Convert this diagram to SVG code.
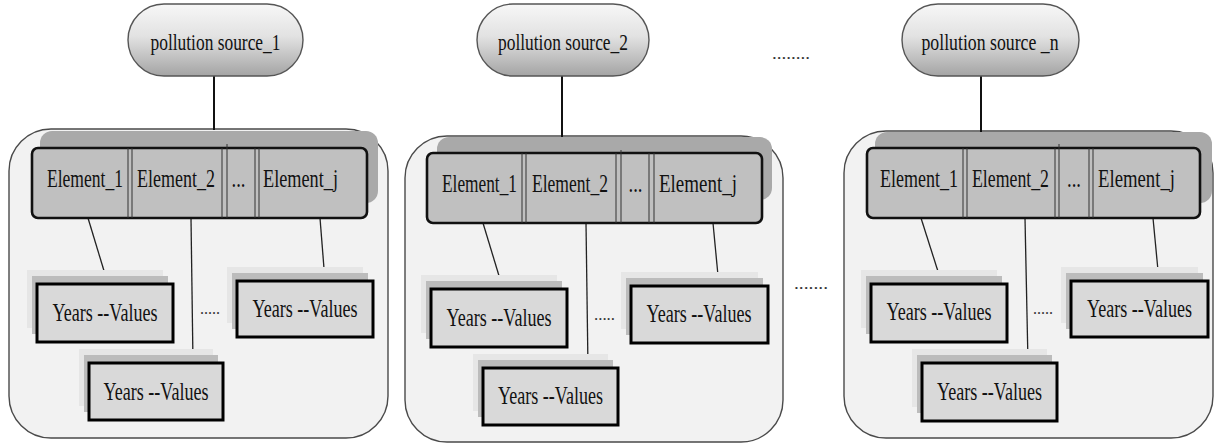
<svg xmlns="http://www.w3.org/2000/svg" width="1215" height="444" viewBox="0 0 1215 444" font-family="Liberation Serif, Times New Roman, serif">
<defs>
<linearGradient id="pillGrad" x1="0" y1="0" x2="0" y2="1">
<stop offset="0" stop-color="#f7f7f7"/>
<stop offset="0.45" stop-color="#e2e2e2"/>
<stop offset="1" stop-color="#a4a4a4"/>
</linearGradient>
<style>
text{fill:#111;text-anchor:middle}
.pill{fill:url(#pillGrad);stroke:#555;stroke-width:1.4}
.pt{font-size:24px}
.outer{fill:#f2f2f2;stroke:#4a4a4a;stroke-width:1.4}
.bshadow{fill:#a9a9a9}
.bar{fill:#c0c0c0;stroke:#111;stroke-width:2.6}
.div{stroke:#333;stroke-width:1}
.et{font-size:25px}
.halo{fill:#e6e6e6}
.ysh{fill:#bcbcbc}
.yb{fill:#d9d9d9;stroke:#000;stroke-width:3}
.yt{font-size:25px}
.dots{font-size:16px;fill:#333}
.conn line{stroke:#222;stroke-width:1.3}
.conn line.thick{stroke:#111;stroke-width:2}
</style>
</defs>
<rect x="0" y="0" width="1215" height="444" fill="#ffffff"/>

<g id="container1">
<rect class="outer" x="9" y="129" width="379" height="309" rx="42"/>
<rect class="bshadow" x="40" y="131" width="338" height="72" rx="12"/>
</g>
<g id="container2">
<rect class="outer" x="405" y="136" width="378" height="306" rx="42"/>
<rect class="bshadow" x="437" y="137" width="335" height="63" rx="12"/>
</g>
<g id="container3">
<rect class="outer" x="844" y="131" width="369" height="307" rx="42"/>
<rect class="bshadow" x="875" y="132" width="337" height="71" rx="12"/>
</g>

<g id="connectors" class="conn">
<line class="thick" x1="214" y1="76" x2="214" y2="130"/>
<line class="thick" x1="562" y1="76" x2="562" y2="137"/>
<line class="thick" x1="981" y1="76" x2="981" y2="132"/>
<line x1="88" y1="218" x2="108" y2="284"/>
<line x1="191" y1="218" x2="193" y2="363"/>
<line x1="320" y1="218" x2="325" y2="281"/>
<line x1="483" y1="223" x2="503" y2="289"/>
<line x1="586" y1="223" x2="588" y2="368"/>
<line x1="713" y1="223" x2="719" y2="286"/>
<line x1="921" y1="218" x2="942" y2="284"/>
<line x1="1025" y1="218" x2="1028" y2="363"/>
<line x1="1153" y1="218" x2="1159" y2="281"/>
</g>

<g id="source1">
<rect class="pill" x="128" y="4" width="175" height="72" rx="36"/>
<text class="pt" x="215.5" y="50" textLength="130" lengthAdjust="spacingAndGlyphs">pollution source_1</text>
</g>
<g id="source2">
<rect class="pill" x="477" y="4" width="172" height="72" rx="36"/>
<text class="pt" x="563" y="50" textLength="130" lengthAdjust="spacingAndGlyphs">pollution source_2</text>
</g>
<g id="sourceN">
<rect class="pill" x="902" y="4" width="177" height="72" rx="36"/>
<text class="pt" x="990" y="50" textLength="137" lengthAdjust="spacingAndGlyphs">pollution source _n</text>
</g>

<g id="elements1">
<rect class="bar" x="32" y="148" width="335" height="70" rx="6"/>
<line class="div" x1="128" y1="148" x2="128" y2="218"/><line class="div" x1="132" y1="148" x2="132" y2="218"/>
<line class="div" x1="222" y1="148" x2="222" y2="218"/><line class="div" x1="227" y1="144" x2="227" y2="218"/>
<line class="div" x1="255" y1="148" x2="255" y2="218"/><line class="div" x1="259" y1="148" x2="259" y2="218"/>
<text class="et" x="85" y="187" textLength="76" lengthAdjust="spacingAndGlyphs">Element_1</text>
<text class="et" x="176" y="187" textLength="78" lengthAdjust="spacingAndGlyphs">Element_2</text>
<text class="et" x="238.5" y="187" textLength="14" lengthAdjust="spacingAndGlyphs">...</text>
<text class="et" x="300.5" y="187" textLength="75" lengthAdjust="spacingAndGlyphs">Element_j</text>
</g>
<g id="elements2">
<rect class="bar" x="427" y="153" width="335" height="70" rx="6"/>
<line class="div" x1="522" y1="153" x2="522" y2="223"/><line class="div" x1="526" y1="153" x2="526" y2="223"/>
<line class="div" x1="616" y1="153" x2="616" y2="223"/><line class="div" x1="621" y1="150" x2="621" y2="223"/>
<line class="div" x1="649" y1="153" x2="649" y2="223"/><line class="div" x1="654" y1="153" x2="654" y2="223"/>
<text class="et" x="479.5" y="192" textLength="75" lengthAdjust="spacingAndGlyphs">Element_1</text>
<text class="et" x="570" y="192" textLength="76" lengthAdjust="spacingAndGlyphs">Element_2</text>
<text class="et" x="635.5" y="192" textLength="14" lengthAdjust="spacingAndGlyphs">...</text>
<text class="et" x="698" y="192" textLength="78" lengthAdjust="spacingAndGlyphs">Element_j</text>
</g>
<g id="elements3">
<rect class="bar" x="867" y="148" width="333" height="70" rx="6"/>
<line class="div" x1="963" y1="148" x2="963" y2="218"/><line class="div" x1="967" y1="148" x2="967" y2="218"/>
<line class="div" x1="1055" y1="148" x2="1055" y2="218"/><line class="div" x1="1059" y1="144" x2="1059" y2="218"/>
<line class="div" x1="1089" y1="148" x2="1089" y2="218"/><line class="div" x1="1093" y1="148" x2="1093" y2="218"/>
<text class="et" x="919" y="187" textLength="78" lengthAdjust="spacingAndGlyphs">Element_1</text>
<text class="et" x="1010.5" y="187" textLength="77" lengthAdjust="spacingAndGlyphs">Element_2</text>
<text class="et" x="1074" y="187" textLength="14" lengthAdjust="spacingAndGlyphs">...</text>
<text class="et" x="1136.5" y="187" textLength="77" lengthAdjust="spacingAndGlyphs">Element_j</text>
</g>

<g id="years1a">
<rect class="halo" x="27" y="270" width="136" height="58"/><rect class="ysh" x="32" y="276" width="136" height="58"/>
<rect class="yb" x="37" y="284" width="136" height="58"/>
<text class="yt" x="105" y="321" textLength="105" lengthAdjust="spacingAndGlyphs">Years --Values</text>
</g>
<g id="years1b">
<rect class="halo" x="227" y="267" width="136" height="56"/><rect class="ysh" x="232" y="273" width="136" height="56"/>
<rect class="yb" x="237" y="281" width="136" height="56"/>
<text class="yt" x="305" y="317" textLength="105" lengthAdjust="spacingAndGlyphs">Years --Values</text>
</g>
<g id="years1c">
<rect class="halo" x="79" y="349" width="134" height="57"/><rect class="ysh" x="84" y="355" width="134" height="57"/>
<rect class="yb" x="89" y="363" width="134" height="57"/>
<text class="yt" x="156" y="400" textLength="105" lengthAdjust="spacingAndGlyphs">Years --Values</text>
</g>
<text class="dots" x="210" y="314" textLength="20" lengthAdjust="spacingAndGlyphs">.....</text>

<g id="years2a">
<rect class="halo" x="421" y="275" width="136" height="58"/><rect class="ysh" x="426" y="281" width="136" height="58"/>
<rect class="yb" x="431" y="289" width="136" height="58"/>
<text class="yt" x="499" y="326" textLength="105" lengthAdjust="spacingAndGlyphs">Years --Values</text>
</g>
<g id="years2b">
<rect class="halo" x="621" y="272" width="137" height="57"/><rect class="ysh" x="626" y="278" width="137" height="57"/>
<rect class="yb" x="631" y="286" width="137" height="57"/>
<text class="yt" x="699" y="322" textLength="105" lengthAdjust="spacingAndGlyphs">Years --Values</text>
</g>
<g id="years2c">
<rect class="halo" x="473" y="354" width="135" height="57"/><rect class="ysh" x="478" y="360" width="135" height="57"/>
<rect class="yb" x="483" y="368" width="135" height="57"/>
<text class="yt" x="550.5" y="404" textLength="105" lengthAdjust="spacingAndGlyphs">Years --Values</text>
</g>
<text class="dots" x="604.5" y="320" textLength="21" lengthAdjust="spacingAndGlyphs">.....</text>

<g id="years3a">
<rect class="halo" x="861" y="270" width="136" height="58"/><rect class="ysh" x="866" y="276" width="136" height="58"/>
<rect class="yb" x="871" y="284" width="136" height="58"/>
<text class="yt" x="939" y="320" textLength="105" lengthAdjust="spacingAndGlyphs">Years --Values</text>
</g>
<g id="years3b">
<rect class="halo" x="1061" y="267" width="137" height="56"/><rect class="ysh" x="1066" y="273" width="137" height="56"/>
<rect class="yb" x="1071" y="281" width="137" height="56"/>
<text class="yt" x="1139.5" y="317" textLength="105" lengthAdjust="spacingAndGlyphs">Years --Values</text>
</g>
<g id="years3c">
<rect class="halo" x="912" y="349" width="135" height="58"/><rect class="ysh" x="917" y="355" width="135" height="58"/>
<rect class="yb" x="922" y="363" width="135" height="58"/>
<text class="yt" x="989.5" y="400" textLength="105" lengthAdjust="spacingAndGlyphs">Years --Values</text>
</g>
<text class="dots" x="1043" y="314" textLength="20" lengthAdjust="spacingAndGlyphs">.....</text>

<text class="dots" x="791" y="59" textLength="38" lengthAdjust="spacingAndGlyphs">........</text>
<text class="dots" x="811" y="289" textLength="34" lengthAdjust="spacingAndGlyphs">.......</text>
</svg>
